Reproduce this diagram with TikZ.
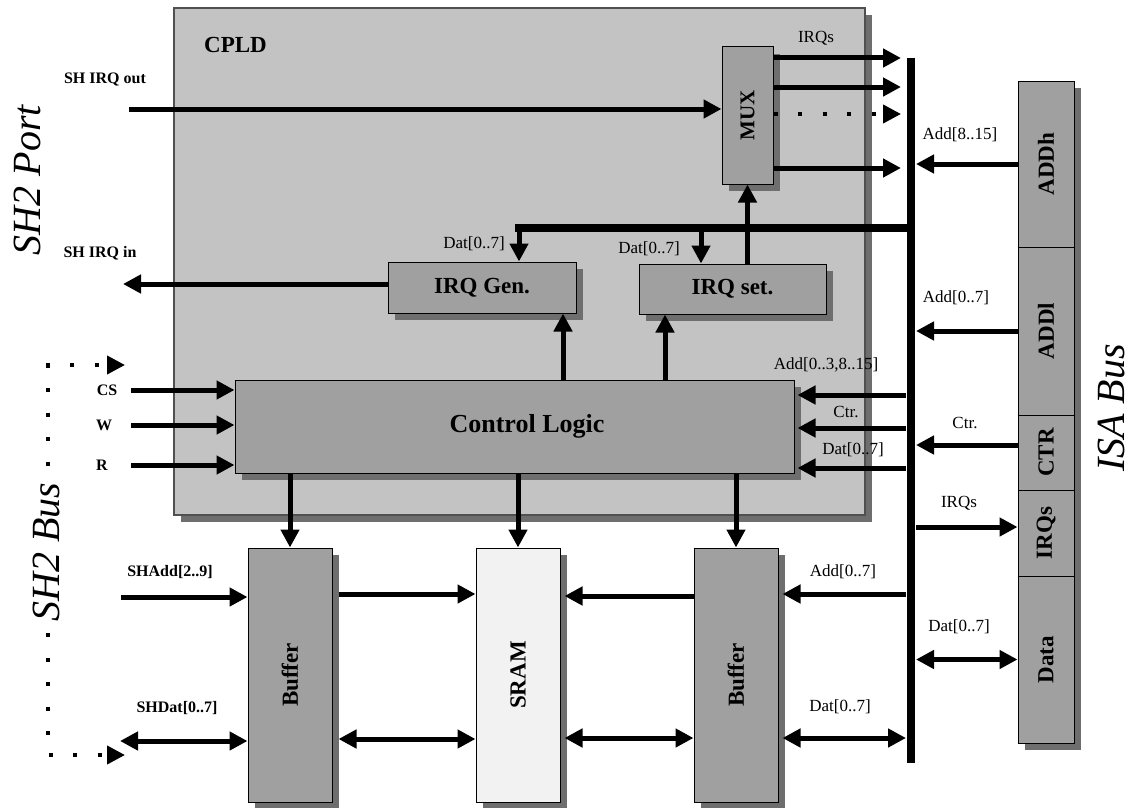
\documentclass[tikz,border=0pt]{standalone}
\usepackage{fontspec}
\setmainfont{Liberation Serif}
\usepackage{graphicx}
\usetikzlibrary{arrows.meta, shadows}

\definecolor{cpldgray}{RGB}{195,195,195}
\definecolor{boxgray}{RGB}{160,160,160}
\definecolor{shadowgray}{RGB}{110,110,110}
\definecolor{sramwhite}{RGB}{242,242,242}
\definecolor{edgegray}{RGB}{80,80,80}

\newcommand{\boxfont}{\fontsize{23pt}{27pt}\selectfont\bfseries}
\newcommand{\ctrlfont}{\fontsize{26pt}{30pt}\selectfont\bfseries}
\newcommand{\sigfont}{\fontsize{16pt}{19pt}\selectfont\bfseries}
\newcommand{\lblfont}{\fontsize{17pt}{20pt}\selectfont}
\newcommand{\portfont}{\fontsize{40pt}{46pt}\selectfont\itshape}

\tikzset{
  bighead/.tip={Triangle[length=18pt, width=18pt]},
  block/.style={draw=black, line width=1pt, fill=boxgray, inner sep=0pt, font=\boxfont,
    drop shadow={shadow xshift=7pt, shadow yshift=-7pt, fill=shadowgray, opacity=1}},
  wire/.style={line width=5pt},
  arr/.style={wire, -bighead},
  darr/.style={wire, bighead-bighead},
  dotwire/.style={line width=4pt, dash pattern=on 4pt off 20.5pt},
  buswire/.style={line width=8pt},
  lbl/.style={font=\lblfont, inner sep=0pt},
  sig/.style={font=\sigfont, inner sep=0pt},
  portlbl/.style={font=\portfont, inner sep=1pt, rotate=90}
}

\begin{document}
\begin{tikzpicture}[x=1pt, y=-1pt]
    \useasboundingbox (0,0) rectangle (1132,808);

    % CPLD and its blocks
    \node[draw=edgegray, line width=1.2pt, fill=cpldgray, minimum width=691pt, minimum height=507pt,
      drop shadow={shadow xshift=7pt, shadow yshift=-7pt, fill=shadowgray, opacity=1}] (cpld) at (519.5,261.5) {};
    \node[font=\boxfont, inner sep=0pt, anchor=west] (cpldname) at (204,45) {CPLD};
    \node[block, minimum width=51pt, minimum height=137pt, font=\fontsize{21pt}{25pt}\selectfont\bfseries] (mux) at (747.5,115.5) {\rotatebox{90}{MUX}};
    \node[block, minimum width=188pt, minimum height=51pt] (irqgen) at (482,287.5) {IRQ Gen.};
    \node[block, minimum width=187pt, minimum height=50pt] (irqset) at (732.5,289) {IRQ set.};
    \node[block, minimum width=559pt, minimum height=93pt, font=\ctrlfont] (ctrl) at (514.5,426.5) {\hspace*{25pt}Control Logic};

    % memory side
    \node[block, minimum width=84pt, minimum height=254pt] (buf1) at (290,675) {\rotatebox{90}{Buffer}};
    \node[block, fill=sramwhite, minimum width=84pt, minimum height=254pt] (sram) at (518,675) {\rotatebox{90}{SRAM}};
    \node[block, minimum width=84pt, minimum height=254pt] (buf2) at (736,675) {\rotatebox{90}{Buffer}};

    % ISA bus slots
    \node[block, minimum width=56pt, minimum height=166pt] (addh) at (1046,164) {\rotatebox{90}{ADDh}};
    \node[block, minimum width=56pt, minimum height=168pt] (addl) at (1046,331) {\rotatebox{90}{ADDl}};
    \node[block, minimum width=56pt, minimum height=75pt] (ctr) at (1046,452.5) {\rotatebox{90}{CTR}};
    \node[block, minimum width=56pt, minimum height=86pt] (irqs) at (1046,533) {\rotatebox{90}{IRQs}};
    \node[block, minimum width=56pt, minimum height=167pt] (data) at (1046,659.5) {\rotatebox{90}{Data}};

    \coordinate (bustop) at (911,58);
    \coordinate (busbot) at (911,763);
    \coordinate (busW) at (906,0);
    \coordinate (busE) at (916,0);
    \coordinate (datleft) at (515,228);
    \coordinate (datA) at (519,228);
    \coordinate (datB) at (701,228);

    % SH2 port
    \coordinate (shout) at (129,109);
    \draw[arr] (shout) -- (mux.west |- shout);
    \node[sig] (shoutlbl) at (105,80) {SH IRQ out};
    \coordinate (shin) at (123,284);
    \draw[arr] (irqgen.west |- shin) -- (shin);
    \node[sig] (shinlbl) at (100,253) {SH IRQ in};

    % MUX outputs
    \foreach \y in {58,87,168}
      \draw[arr, shorten >=5pt] (mux.east |- 0,\y) -- (busW |- 0,\y);
    \draw[dotwire, -bighead, shorten >=5pt] (mux.east |- 0,114) -- (busW |- 0,114);
    \node[lbl] (irqslbl) at (816,38) {IRQs};

    % data line to the IRQ blocks
    \draw[buswire] (datleft) -- (datleft -| bustop);
    \draw[arr] (datA) -- (datA |- irqgen.north);
    \draw[arr] (datB) -- (datB |- irqset.north);
    \node[lbl] (datgen) at (474,244) {Dat[0..7]};
    \node[lbl] (datset) at (649,249) {Dat[0..7]};
    \draw[arr] (irqset.north -| mux.south) -- (mux.south);

    \coordinate (upA) at (563,0);
    \coordinate (upB) at (665,0);
    \draw[arr] (ctrl.north -| upA) -- (irqgen.south -| upA);
    \draw[arr] (ctrl.north -| upB) -- (irqset.south -| upB);

    % SH2 bus signals
    \foreach \y/\name/\lx in {390/CS/107, 425/W/104, 465/R/102} {
      \coordinate (in\name) at (131,\y);
      \draw[arr] (in\name) -- (ctrl.west |- in\name);
      \node[sig] (lbl\name) at (\lx,\y) {\name};
    }

    % ISA bus to control logic
    \coordinate (ctrlE) at ([xshift=3pt]ctrl.east);
    \foreach \y in {395,428,468}
      \draw[arr] (busW |- 0,\y) -- (ctrlE |- 0,\y);
    \node[lbl] (addctl) at (826,365) {Add[0..3,8..15]};
    \node[lbl] (ctrctl) at (846,412) {Ctr.};
    \node[lbl] (datctl) at (853,450) {Dat[0..7]};

    \foreach \b in {buf1,sram,buf2}
      \draw[arr] (ctrl.south -| \b.north) -- (\b.north);

    % buffers and SRAM
    \coordinate (shadd) at (121,597);
    \draw[arr] (shadd) -- (buf1.west |- shadd);
    \node[sig] (shaddlbl) at (170,572) {SHAdd[2..9]};
    \coordinate (shdat) at (120,741);
    \draw[darr] (shdat) -- (buf1.west |- shdat);
    \node[sig] (shdatlbl) at (177,708) {SHDat[0..7]};

    \coordinate (buf1E) at ([xshift=6pt]buf1.east);
    \coordinate (sramE) at ([xshift=4pt]sram.east);
    \coordinate (buf2E) at ([xshift=4pt]buf2.east);
    \draw[arr] (buf1E |- 0,594) -- (sram.west |- 0,594);
    \draw[darr] (buf1E |- 0,739) -- (sram.west |- 0,739);
    \draw[arr] (buf2.west |- 0,596) -- (sramE |- 0,596);
    \draw[darr] (sramE |- 0,738) -- (buf2.west |- 0,738);
    \draw[arr] (busW |- 0,594) -- (buf2E |- 0,594);
    \draw[darr] (buf2E |- 0,738) -- (busW |- 0,738);
    \node[lbl] (addbuf) at (843,572) {Add[0..7]};
    \node[lbl] (datbuf) at (840,707) {Dat[0..7]};

    % ISA slots to the bus
    \draw[arr] (addh.west) -- (busE |- addh.west);
    \draw[arr] (addl.west) -- (busE |- addl.west);
    \draw[arr] (ctr.west |- 0,445) -- (busE |- 0,445);
    \draw[arr] (busE |- 0,527) -- (irqs.west |- 0,527);
    \draw[darr] (busE |- data.west) -- (data.west);
    \node[lbl] (addhlbl) at (960,135) {Add[8..15]};
    \node[lbl] (addllbl) at (956,298) {Add[0..7]};
    \node[lbl] (ctrlbl) at (965,423) {Ctr.};
    \node[lbl] (irqlbl) at (959,503) {IRQs};
    \node[lbl] (datlbl) at (959,627) {Dat[0..7]};

    \draw[buswire] (bustop) -- (busbot);

    % SH2 bus bracket
    \coordinate (sh2top) at (125,365);
    \coordinate (sh2bot) at (125,755);
    \draw[dotwire, dash phase=15pt, bighead-bighead] (sh2top) -- ++(-77,0) |- (sh2bot);

    \node[portlbl] (portname) at (27,180) {SH2 Port};
    \node[portlbl, fill=white] (busname) at (46,552) {SH2 Bus};
    \node[portlbl] (isaname) at (1111,408) {ISA Bus};
\end{tikzpicture}
\end{document}
